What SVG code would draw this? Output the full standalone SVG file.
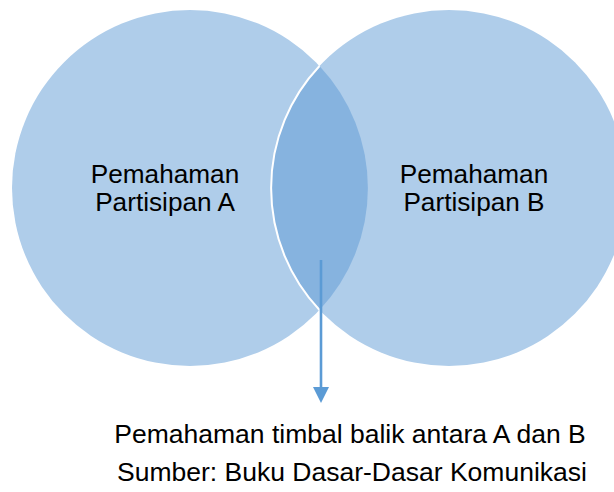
<svg xmlns="http://www.w3.org/2000/svg" width="614" height="492" viewBox="0 0 614 492">
  <defs>
    <style>
      .circle { fill: #AFCDEA; }
      .lens { fill: #86B3DF; }
      .label { font-family: "Liberation Sans", Arial, sans-serif; font-size: 26.2px; fill: #000; text-anchor: middle; }
      .caption { font-family: "Liberation Sans", Arial, sans-serif; font-size: 26.5px; fill: #000; text-anchor: middle; }
      .conn { stroke: #5B9BD5; stroke-width: 2.6; fill: none; }
      .head { fill: #5B9BD5; }
    </style>
  </defs>
  <rect width="614" height="492" fill="#FFFFFF"/>
  <g id="node-a">
    <circle class="circle" cx="190" cy="188" r="178"/>
  </g>
  <g id="node-b">
    <circle class="circle" cx="449" cy="188" r="178"/>
  </g>
  <g id="node-overlap">
    <path class="lens" d="M319.5 66 A178 178 0 0 1 319.5 310 A178 178 0 0 1 319.5 66 Z"/>
    <path d="M319.5 66 A178 178 0 0 0 319.5 310" fill="none" stroke="#FFFFFF" stroke-width="2"/>
  </g>
  <g id="label-a">
    <text class="label" x="165" y="183">Pemahaman</text>
    <text class="label" x="165" y="211">Partisipan A</text>
  </g>
  <g id="label-b">
    <text class="label" x="474" y="183">Pemahaman</text>
    <text class="label" x="474" y="211">Partisipan B</text>
  </g>
  <g id="connectors">
    <line class="conn" x1="321" y1="260" x2="321" y2="388"/>
    <path class="head" d="M313 387 L329 387 L321 403 Z"/>
  </g>
  <g id="caption">
    <text class="caption" x="350" y="443">Pemahaman timbal balik antara A dan B</text>
    <text class="caption" x="352" y="481">Sumber: Buku Dasar-Dasar Komunikasi</text>
  </g>
</svg>
